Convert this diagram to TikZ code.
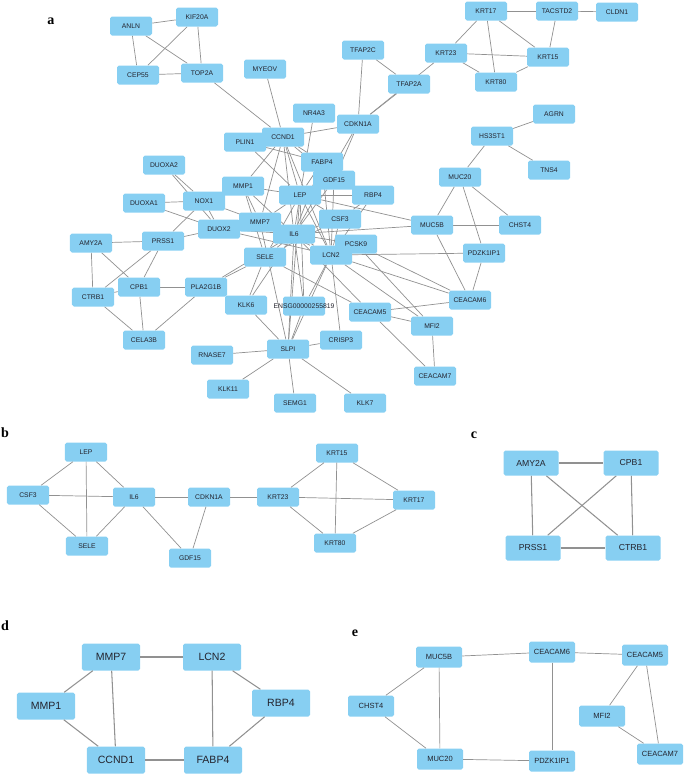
\documentclass[tikz,border=0pt]{standalone}
\usepackage{fontspec}
\setmainfont{Liberation Serif}
\setsansfont{Liberation Sans}
\usetikzlibrary{backgrounds}
\definecolor{geneblue}{RGB}{135,207,242}
\definecolor{edgegray}{RGB}{145,145,145}
\definecolor{genetext}{RGB}{35,35,45}

\begin{document}
\begin{tikzpicture}[
  x=0.03cm, y=-0.03cm,
  gene/.style={fill=geneblue, rounded corners=1.5pt, inner sep=0pt, text=genetext,
    font=\sffamily\fontsize{5.8}{6}\selectfont},
  boxa/.style={gene, minimum width=1.26cm, minimum height=0.57cm},
  boxc/.style={gene, minimum width=1.65cm, minimum height=0.75cm, font=\sffamily\fontsize{7.4}{8}\selectfont},
  boxd/.style={gene, minimum width=1.74cm, minimum height=0.81cm, font=\sffamily\fontsize{9}{10}\selectfont},
  boxe/.style={gene, minimum width=1.38cm, minimum height=0.63cm, font=\sffamily\fontsize{6.4}{7}\selectfont},
  link/.style={draw=edgegray, line width=0.6pt},
  biglink/.style={draw=edgegray, line width=0.9pt},
  panel/.style={font=\bfseries\fontsize{12}{12}\selectfont, inner sep=0pt},
]
\useasboundingbox (0,0) rectangle (685,774);

% panel labels
\node[panel] (la) at (51,21) {a};
\node[panel] (lb) at (5,433) {b};
\node[panel] (lc) at (474,435) {c};
\node[panel] (ld) at (5,626) {d};
\node[panel] (le) at (355,633) {e};

% a: whole network
\foreach \n/\x/\y in {ANLN/131/26, KIF20A/197/17, CEP55/138/75, TOP2A/202/73, MYEOV/265/69,
  NR4A3/314/113, PLIN1/245/142, CCND1/283/137, FABP4/322/162, GDF15/334/180, MMP1/243/186,
  LEP/300/195, DUOXA2/164/165, KRT17/486/11, TACSTD2/557/11, CLDN1/617/12, TFAP2C/363/50,
  KRT23/446/53, KRT15/548/57, TFAP2A/409/84, KRT80/496/82, AGRN/554/114, CDKN1A/358/124,
  HS3ST1/492/136, TNS4/549/170, MUC20/460/177, RBP4/373/195, DUOXA1/144/203, NOX1/204/201,
  MMP7/260/222, DUOX2/219/229, AMY2A/91/243, PRSS1/163/241, CSF3/340/219, PCSK9/356/244,
  IL6/294/234, SELE/265/257, LCN2/331/255, CTRB1/93/297, CPB1/139/287, PLA2G1B/206/287,
  KLK6/246/305, CELA3B/144/340, CEACAM5/370/312, CEACAM6/470/300, MFI2/432/326,
  CRISP3/341/340, SLPI/288/349, RNASE7/212/355, CEACAM7/435/376, KLK11/228/389,
  SEMG1/295/403, KLK7/365/403, MUC5B/432/225, CHST4/520/225, PDZK1IP1/484/253}
  \node[boxa] (a\n) at (\x,\y) {\n};
\node[boxa] (aENSG) at (304,306) {\makebox[0pt]{ENSG00000255819}};

\begin{scope}[on background layer]
\foreach \u/\v in {ANLN/KIF20A, ANLN/CEP55, ANLN/TOP2A, KIF20A/CEP55, KIF20A/TOP2A, CEP55/TOP2A,
  TOP2A/CCND1, MYEOV/CCND1, NR4A3/LEP, CCND1/CDKN1A, CCND1/FABP4, CCND1/LEP, CCND1/IL6,
  CCND1/MMP1, CCND1/MMP7, CCND1/LCN2, CCND1/GDF15, PLIN1/FABP4, PLIN1/LEP, TFAP2C/TFAP2A,
  TFAP2C/CDKN1A, CDKN1A/TFAP2A, CDKN1A/KRT23, CDKN1A/GDF15, CDKN1A/IL6, KRT17/KRT23,
  KRT17/KRT80, KRT17/KRT15, KRT17/TACSTD2, TACSTD2/CLDN1, TACSTD2/KRT15, KRT23/KRT15,
  KRT23/KRT80, KRT80/KRT15, HS3ST1/AGRN, HS3ST1/TNS4, HS3ST1/MUC20, MUC20/MUC5B, MUC20/CHST4,
  MUC20/PDZK1IP1, MUC5B/CHST4, MUC5B/CEACAM6, PDZK1IP1/CEACAM6, MUC5B/LEP, MUC5B/IL6,
  LCN2/PDZK1IP1, FABP4/LEP, FABP4/IL6, FABP4/LCN2, GDF15/IL6, GDF15/LCN2, GDF15/RBP4,
  LEP/RBP4, MMP1/LEP, MMP1/MMP7, MMP1/NOX1, MMP1/IL6, MMP1/SELE, DUOXA2/NOX1, DUOXA2/DUOX2,
  DUOXA1/NOX1, DUOXA1/DUOX2, NOX1/DUOX2, NOX1/IL6, PRSS1/NOX1, PRSS1/DUOX2, DUOX2/LCN2,
  DUOX2/IL6, AMY2A/PRSS1, AMY2A/CTRB1, AMY2A/CPB1, PRSS1/CTRB1, PRSS1/CPB1, CPB1/CTRB1,
  CPB1/CELA3B, CTRB1/CELA3B, CPB1/PLA2G1B, PLA2G1B/CELA3B, PLA2G1B/SELE, PLA2G1B/IL6,
  MMP7/IL6, MMP7/LEP, MMP7/LCN2, MMP7/SLPI, LEP/IL6, LEP/SELE, LEP/CSF3, LEP/LCN2, LEP/SLPI,
  LEP/ENSG, LEP/GDF15, IL6/CSF3, IL6/SELE, IL6/LCN2, IL6/PCSK9, IL6/SLPI, IL6/ENSG, IL6/KLK6,
  IL6/CEACAM5, CSF3/SELE, CSF3/RBP4, CSF3/LCN2, RBP4/LCN2, LCN2/CEACAM6, LCN2/MFI2,
  LCN2/CRISP3, LCN2/ENSG, LCN2/SLPI, PCSK9/MFI2, PCSK9/CEACAM6, SELE/KLK6, SELE/CEACAM5,
  KLK6/SLPI, ENSG/SLPI, CRISP3/SLPI, RNASE7/SLPI, KLK11/SLPI, SEMG1/SLPI, KLK7/SLPI,
  CEACAM5/CEACAM6, CEACAM5/MFI2, CEACAM5/CEACAM7, MFI2/CEACAM7}
  \draw[link] (a\u) -- (a\v);
\end{scope}

% b
\foreach \n/\x/\y in {LEP/86/452, CSF3/28/495, IL6/134/497, CDKN1A/209/497, SELE/87/546,
  GDF15/190/558, KRT15/337/453, KRT23/278/497, KRT17/414/500, KRT80/335/543}
  \node[boxa] (b\n) at (\x,\y) {\n};
\foreach \u/\v in {LEP/CSF3, LEP/IL6, LEP/SELE, CSF3/IL6, CSF3/SELE, IL6/SELE, IL6/CDKN1A,
  IL6/GDF15, CDKN1A/GDF15, CDKN1A/KRT23, KRT23/KRT15, KRT23/KRT17, KRT23/KRT80,
  KRT15/KRT17, KRT15/KRT80, KRT17/KRT80}
  \draw[link] (b\u) -- (b\v);

% c
\foreach \n/\x/\y in {AMY2A/531/463, CPB1/631/463, PRSS1/533/548, CTRB1/633/548}
  \node[boxc] (c\n) at (\x,\y) {\n};
\begin{scope}[on background layer]
\foreach \u/\v in {AMY2A/CPB1, AMY2A/PRSS1, AMY2A/CTRB1, CPB1/PRSS1, CPB1/CTRB1, PRSS1/CTRB1}
  \draw[biglink] (c\u) -- (c\v);
\end{scope}

% d
\foreach \n/\x/\y in {MMP7/111/657, LCN2/212/657, MMP1/46/706, RBP4/281/703,
  CCND1/116/760, FABP4/213/760}
  \node[boxd] (d\n) at (\x,\y) {\n};
\foreach \u/\v in {MMP7/LCN2, MMP7/MMP1, MMP7/CCND1, MMP1/CCND1, CCND1/FABP4,
  LCN2/FABP4, LCN2/RBP4, RBP4/FABP4}
  \draw[biglink] (d\u) -- (d\v);

% e
\foreach \n/\x/\y in {MUC5B/439/657, CEACAM6/552/652, CEACAM5/645/655, CHST4/371/706,
  MFI2/602/716, MUC20/440/759, PDZK1IP1/552/761, CEACAM7/660/754}
  \node[boxe] (e\n) at (\x,\y) {\n};
\foreach \u/\v in {MUC5B/CEACAM6, CEACAM6/CEACAM5, MUC5B/CHST4, MUC5B/MUC20, CHST4/MUC20,
  MUC20/PDZK1IP1, CEACAM6/PDZK1IP1, CEACAM5/MFI2, CEACAM5/CEACAM7, MFI2/CEACAM7}
  \draw[link] (e\u) -- (e\v);
\end{tikzpicture}
\end{document}
